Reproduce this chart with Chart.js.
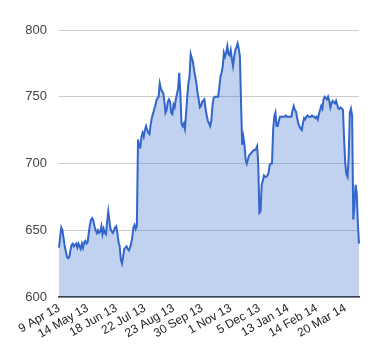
<!DOCTYPE html>
<html><head><meta charset="utf-8">
<script src="https://cdn.jsdelivr.net/npm/chart.js@4/dist/chart.umd.min.js"></script>
<style>html,body{margin:0;padding:0;background:#fff}#wrap{width:380px;height:360px}</style>
</head><body><div id="wrap"><canvas id="c" width="380" height="360"></canvas></div>
<script>
const tickLabels = ["9 Apr 13","14 May 13","18 Jun 13","22 Jul 13","23 Aug 13","30 Sep 13","1 Nov 13","5 Dec 13","13 Jan 14","14 Feb 14","20 Mar 14"];
const tickEvery = 25;
const yTicks = [600,650,700,750,800];
const values = [
637,645,652,650,644,638,634,630,629,630,
635,639,640,638,639,640,637,640,638,636,
640,637,641,642,640,641,648,654,658,659,
657,653,650,648,650,648,649,653,647,651,
648,647,656,664,657,651,649,648,650,652,
653,648,641,638,628,625,630,636,637,638,
636,635,637,640,645,652,654,651,653,718,
712,712,720,723,720,725,728,725,723,722,
729,734,737,740,743,747,749,750,760,756,
754,753,747,738,740,746,748,746,738,737,
744,742,748,752,756,768,752,730,728,730,
726,738,750,760,765,782,779,776,770,765,
760,753,748,742,743,746,747,748,741,736,
732,730,728,732,743,749,750,750,750,750,
757,765,768,773,783,780,783,788,782,781,
785,778,773,780,785,787,790,786,780,745,
714,720,714,703,700,703,706,707,708,709,
710,710,711,713,700,663,664,684,687,691,
690,690,691,693,699,700,700,725,735,738,
728,728,732,735,735,735,735,735,736,735,
735,735,735,735,740,743,740,739,734,730,
728,726,725,730,734,733,735,736,735,735,
735,736,735,735,734,735,733,737,740,743,
741,748,750,749,748,750,747,742,745,747,
746,745,747,744,741,741,742,741,740,718,
700,692,690,705,738,741,736,658,668,684,
678,655,640
];
const labels = values.map((v,i)=>i);

new Chart(document.getElementById('c'), {
  type: 'line',
  data: {
    labels: labels,
    datasets: [{
      data: values,
      borderColor: '#3366cc',
      backgroundColor: 'rgba(51,102,204,0.3)',
      borderWidth: 2,
      fill: 'origin',
      pointRadius: 0,
      tension: 0
    }]
  },
  options: {
    responsive: false,
    animation: false,
    devicePixelRatio: 1,
    layout: { padding: { left: 0, right: 21, top: 30, bottom: 0 } },
    plugins: { legend: { display: false }, tooltip: { enabled: false } },
    scales: {
      x: {
        type: 'category',
        grid: { display: false, drawTicks: false },
        border: { display: true, color: '#333333', width: 1.5 },
        ticks: {
          autoSkip: false,
          minRotation: 30, maxRotation: 30,
          padding: 4,
          color: '#222222',
          font: { family: 'Arial, "Liberation Sans", sans-serif', size: 12 },
          callback: function(val, idx) { return idx % tickEvery === 0 ? tickLabels[idx / tickEvery] : null; }
        },
        afterFit: function(s) { s.height = 63; }
      },
      y: {
        min: 600, max: 800,
        afterBuildTicks: function(s) { s.ticks = yTicks.map(v => ({ value: v })); },
        grid: { color: '#cccccc', drawTicks: false, lineWidth: 1 },
        border: { display: false },
        ticks: {
          padding: 12,
          color: '#444444',
          font: { family: 'Arial, "Liberation Sans", sans-serif', size: 13 }
        },
        afterFit: function(s) { s.width = 59; }
      }
    }
  }
});
</script>
</body></html>
